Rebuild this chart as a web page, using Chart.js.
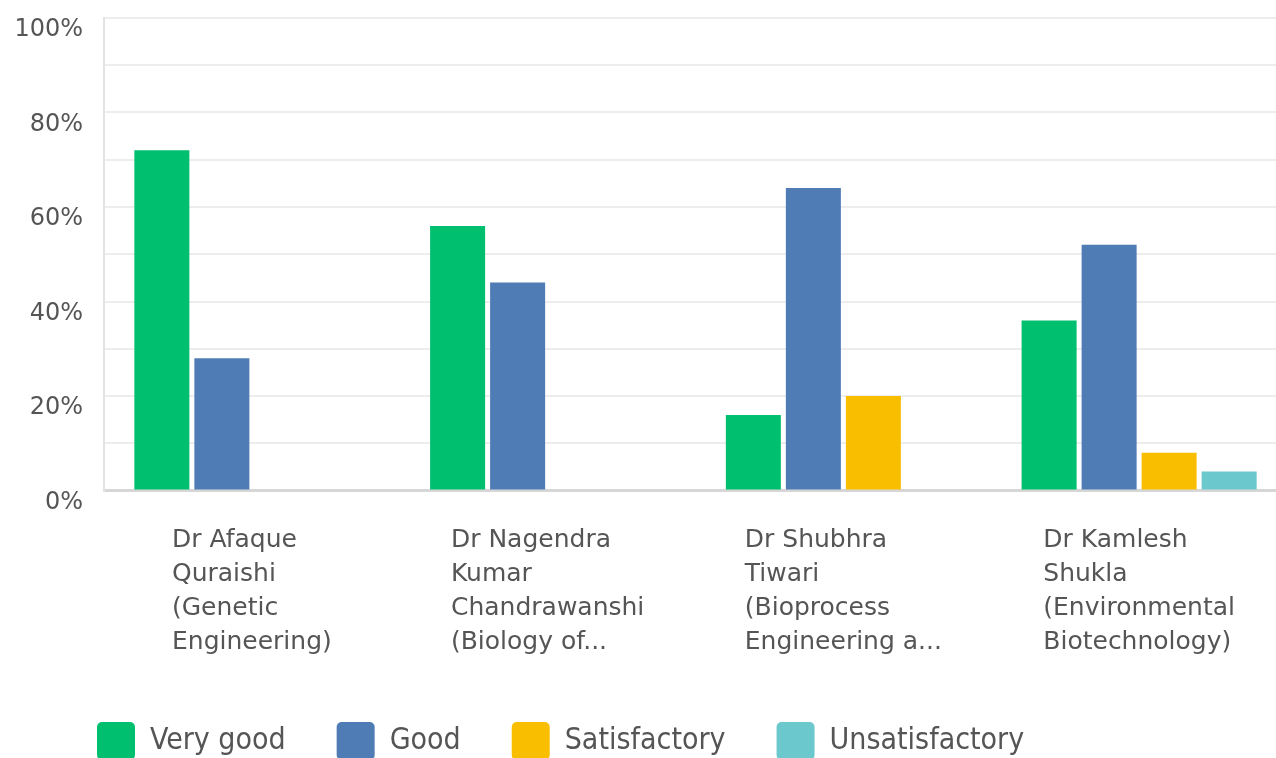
<!DOCTYPE html>
<html>
<head>
<meta charset="utf-8">
<script src="https://cdn.jsdelivr.net/npm/chart.js@4/dist/chart.umd.min.js"></script>
<style>
  html, body { margin: 0; padding: 0; overflow: hidden; background: #fff; width: 1276px; height: 758px; }
  #wrap { position: absolute; left: 0; top: 0; width: 1287px; height: 770px; }
</style>
</head>
<body>
<div id="wrap"><canvas id="c"></canvas></div>
<script>
// ---- data ----
const categories = [
  ["Dr Afaque", "Quraishi", "(Genetic", "Engineering)"],
  ["Dr Nagendra", "Kumar", "Chandrawanshi", "(Biology of..."],
  ["Dr Shubhra", "Tiwari", "(Bioprocess", "Engineering a..."],
  ["Dr Kamlesh", "Shukla", "(Environmental", "Biotechnology)"]
];
const seriesNames = ["Very good", "Good", "Satisfactory", "Unsatisfactory"];
const veryGood = [72, 56, 16, 36];
const good = [28, 44, 64, 52];
const satisfactory = [0, 0, 20, 8];
const unsatisfactory = [0, 0, 0, 4];
const yLabelledTicks = [0, 20, 40, 60, 80, 100];

const seriesColors = ["#00bf6f", "#507cb6", "#f9be00", "#6bc8cd"];
const seriesValues = [veryGood, good, satisfactory, unsatisfactory];

// keep multi-line tick labels as a left-aligned block centred on the category,
// and indent the legend row
const layoutTweaks = {
  id: 'layoutTweaks',
  afterLayout(chart) {
    if (chart.legend) chart.legend.left = 46;
  },
  beforeDraw(chart) {
    const s = chart.scales.x;
    const ctx = chart.ctx;
    const items = s.getLabelItems();
    items.forEach(it => {
      const o = it.options;
      if (it._ox === undefined) it._ox = o.translation[0];
      ctx.save();
      ctx.font = it.font.string;
      const lines = Array.isArray(it.label) ? it.label : [it.label];
      const w = Math.max(...lines.map(l => ctx.measureText(l).width));
      ctx.restore();
      o.translation = [it._ox - w / 2, o.translation[1]];
      o.textAlign = 'left';
    });
  }
};

new Chart(document.getElementById('c'), {
  type: 'bar',
  data: {
    labels: categories,
    datasets: seriesNames.map((name, i) => ({
      label: name,
      data: seriesValues[i],
      backgroundColor: seriesColors[i],
      borderWidth: 0
    }))
  },
  plugins: [layoutTweaks],
  options: {
    responsive: true,
    maintainAspectRatio: false,
    animation: false,
    layout: { padding: { top: 18, left: 0, right: 0, bottom: 0 } },
    datasets: { bar: { categoryPercentage: 0.8117, barPercentage: 0.9167 } },
    plugins: {
      legend: {
        position: 'bottom',
        align: 'start',
        labels: {
          boxWidth: 38, boxHeight: 38, padding: 51,
          useBorderRadius: true, borderRadius: 5,
          color: '#555',
          font: { family: "'DejaVu Sans Condensed', 'DejaVu Sans'", size: 30 }
        }
      },
      tooltip: { enabled: false }
    },
    scales: {
      x: {
        grid: { display: false },
        border: { display: true, color: '#d6d6d6', width: 3 },
        ticks: {
          color: '#555', padding: 25, maxRotation: 0, autoSkip: false,
          font: { family: 'DejaVu Sans', size: 25, lineHeight: 1.36 }
        },
        afterFit(s) { s.height = 180.5; s.paddingLeft = 0; s.paddingRight = 0; }
      },
      y: {
        min: 0, max: 100,
        grid: { color: '#ededed', lineWidth: 2, drawTicks: false },
        border: { color: '#e3e3e3', width: 2 },
        ticks: {
          stepSize: 10, padding: 21, labelOffset: 12, color: '#555',
          font: { family: 'DejaVu Sans', size: 24 },
          callback: v => yLabelledTicks.includes(v) ? v + '%' : ''
        },
        afterFit(s) { s.width = 104; s.paddingTop = 0; s.paddingBottom = 0; }
      }
    }
  }
});
</script>
</body>
</html>
